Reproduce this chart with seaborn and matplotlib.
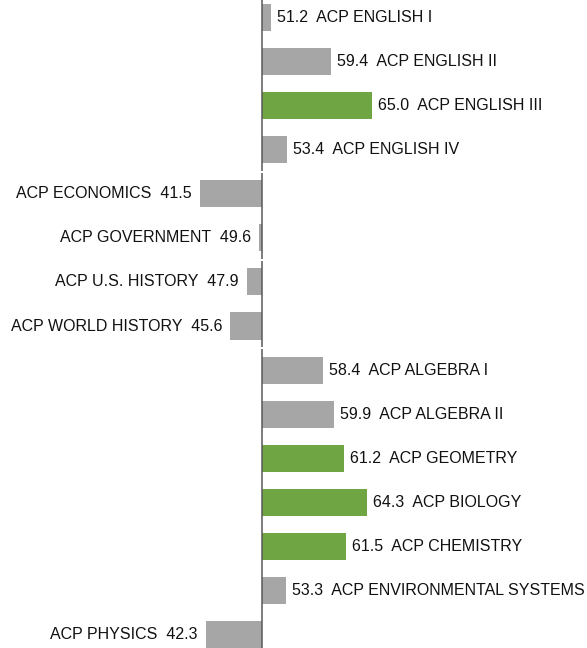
import numpy as np
import pandas as pd
import matplotlib
matplotlib.use("Agg")
import matplotlib.pyplot as plt
import seaborn as sns

# Course average scores; the baseline of the chart sits at 50
courses = [
    "ACP ENGLISH I", "ACP ENGLISH II", "ACP ENGLISH III", "ACP ENGLISH IV",
    "ACP ECONOMICS", "ACP GOVERNMENT", "ACP U.S. HISTORY", "ACP WORLD HISTORY",
    "ACP ALGEBRA I", "ACP ALGEBRA II", "ACP GEOMETRY",
    "ACP BIOLOGY", "ACP CHEMISTRY", "ACP ENVIRONMENTAL SYSTEMS", "ACP PHYSICS",
]
scores = [51.2, 59.4, 65.0, 53.4,
          41.5, 49.6, 47.9, 45.6,
          58.4, 59.9, 61.2,
          64.3, 61.5, 53.3, 42.3]
highlight = [False, False, True, False,
             False, False, False, False,
             False, False, True,
             True, True, False, False]
baseline = 50.0

df = pd.DataFrame({"course": courses, "score": scores, "hi": highlight})
df["delta"] = df["score"] - baseline
df["group"] = np.where(df["hi"], "high", "base")

sns.set_theme(style="white")
plt.rcParams["font.family"] = ["Liberation Sans", "DejaVu Sans"]

fig = plt.figure(figsize=(5.87, 6.48), dpi=100)
ax = fig.add_axes([0, 0, 1, 1])

sns.barplot(data=df, x="delta", y="course", hue="group", orient="h",
            palette={"base": "#A6A6A6", "high": "#70A543"}, saturation=1,
            dodge=False, width=0.613, legend=False, ax=ax)
for p in ax.patches:
    p.set_edgecolor("none")

# Baseline axis, drawn in segments with thin breaks
breaks = [-0.5, 3.5, 5.5, 7.5, 14.5]
for a, b in zip(breaks[:-1], breaks[1:]):
    ax.vlines(0, a + 0.025, b - 0.025, color="#595959", linewidth=1.1, zorder=3)

for i, row in df.iterrows():
    if row["delta"] >= 0:
        ax.text(row["delta"] + 0.8, i, f"{row['score']:.1f}  {row['course']}",
                ha="left", va="center", fontsize=11.5, color="#111111")
    else:
        ax.text(row["delta"] - 1.05, i, f"{row['course']}  {row['score']:.1f}",
                ha="right", va="center", fontsize=11.5, color="#111111")

ax.set_xlim(14.21 - baseline, 94.4 - baseline)
ax.set_ylim(14.306, -0.397)
ax.set_axis_off()

fig.savefig("out.png", dpi=100)
